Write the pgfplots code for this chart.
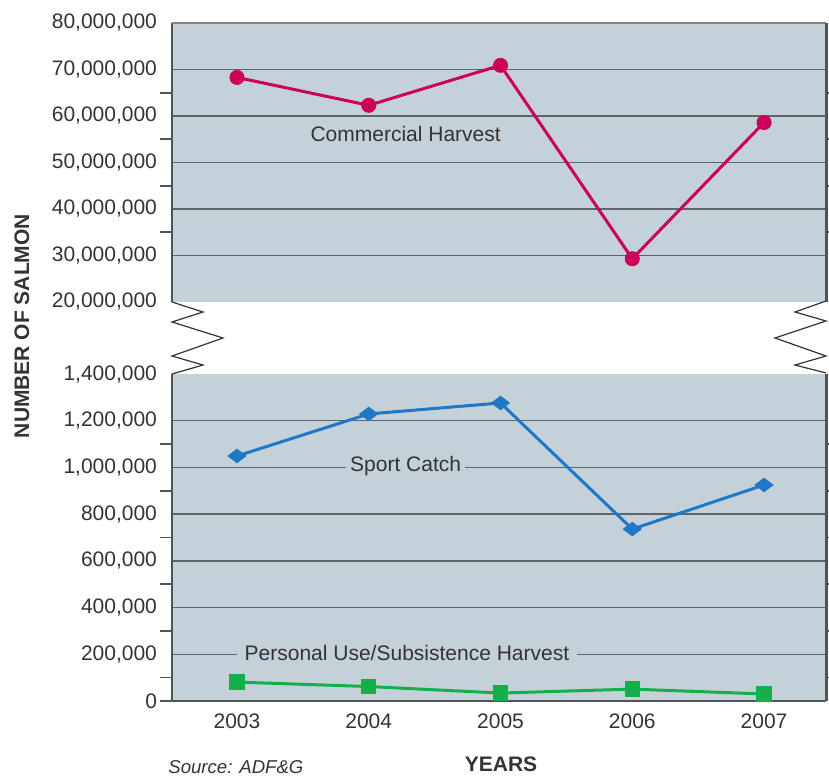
\documentclass[border=0pt]{standalone}
\usepackage{fontspec}
\setmainfont{Liberation Sans}
\usepackage{pgfplots}
\pgfplotsset{compat=1.18}
\definecolor{panel}{HTML}{C5D1D9}
\definecolor{gridc}{HTML}{5F6468}
\definecolor{framec}{HTML}{4F5457}
\definecolor{txt}{HTML}{333333}
\definecolor{commercial}{HTML}{CC005A}
\definecolor{sport}{HTML}{1F78C6}
\definecolor{personal}{HTML}{14AF4B}

\pgfplotsset{
  salmon/.style={
    scale only axis, width=327pt, anchor=south west,
    xmin=2002.507, xmax=2007.47,
    axis background/.style={fill=panel},
    axis line style={draw=none},
    clip=false,
    ymajorgrids, major grid style={gridc, line width=0.75pt},
    major tick length=0pt, minor tick length=6pt, tick align=outside,
    minor y tick num=1, minor tick style={framec, line width=0.8pt},
    scaled y ticks=false,
    extra y tick style={grid=none},
    tick label style={font=\fontsize{10.5}{12}\selectfont, text=txt},
    yticklabel style={xshift=-4pt},
    /pgf/number format/.cd, fixed, precision=0, 1000 sep={,}, assume math mode=true,
  }
}

\begin{document}
\begin{tikzpicture}
\useasboundingbox (0pt,0pt) rectangle (414.5pt,-388.5pt);

% upper panel: commercial harvest
\begin{axis}[salmon, at={(86pt,-151pt)}, height=139.5pt,
  ymin=20000000, ymax=80000000,
  ytick={30000000,40000000,50000000,60000000,70000000},
  extra y ticks={20000000,80000000},
  xtick=\empty]
\addplot[commercial, line width=1.5pt, mark=*, mark size=3pt] coordinates {
  (2003,68300000) (2004,62300000) (2005,70900000) (2006,29300000) (2007,58600000)};
\node[fill=panel, inner xsep=2pt, inner ysep=1pt, text=txt, font=\fontsize{10.5}{12}\selectfont]
  at (axis cs:2004.28,56200000) {Commercial Harvest};
\draw[framec, line width=1pt] (rel axis cs:0,0) -- (rel axis cs:0,1);
\draw[gridc!80, line width=1.1pt] (rel axis cs:0,1) -- (rel axis cs:1,1);
\draw[framec, line width=1.5pt] (rel axis cs:1,1) -- (rel axis cs:1,0);
\end{axis}

% lower panel: sport catch and personal use
\begin{axis}[salmon, at={(86pt,-350.5pt)}, height=163.5pt,
  ymin=0, ymax=1400000,
  ytick={0,200000,400000,600000,800000,1000000,1200000},
  extra y ticks={1400000},
  xtick={2003,2004,2005,2006,2007},
  xticklabel style={/pgf/number format/1000 sep={}, yshift=-3pt}]
\addplot[sport, line width=1.5pt, mark=diamond*, mark size=3.6pt, mark options={rotate=90}] coordinates {
  (2003,1049000) (2004,1229000) (2005,1276000) (2006,736000) (2007,925000)};
\addplot[personal, line width=1.5pt, mark=square*, mark size=3.1pt] coordinates {
  (2003,81000) (2004,62000) (2005,34000) (2006,51000) (2007,30000)};
\node[fill=panel, inner xsep=2pt, inner ysep=1pt, text=txt, font=\fontsize{10.5}{12}\selectfont]
  at (axis cs:2004.28,1006000) {Sport Catch};
\node[fill=panel, inner xsep=4pt, inner ysep=1pt, text=txt, font=\fontsize{10.5}{12}\selectfont]
  at (axis cs:2004.29,205000) {Personal Use/Subsistence Harvest};
\draw[framec, line width=0.8pt] (rel axis cs:0,0) -- ++(-6pt,0pt);
\draw[framec, line width=1pt] (rel axis cs:0,1) -- (rel axis cs:0,0) -- (rel axis cs:1,0);
\draw[framec, line width=1.5pt] (rel axis cs:1,0) -- (rel axis cs:1,1);
\end{axis}

% axis break zigzags
\draw[black!80, line width=0.6pt] (86pt,-151pt) -- (101.5pt,-156pt) -- (86pt,-161pt) -- (111.5pt,-169pt)
  -- (86pt,-178pt) -- (101.5pt,-182.5pt) -- (86pt,-187pt);
\draw[black!80, line width=0.6pt] (413pt,-150.5pt) -- (397.5pt,-156pt) -- (413pt,-160.5pt) -- (387.5pt,-169pt)
  -- (413pt,-178pt) -- (397.5pt,-182.5pt) -- (413pt,-186.5pt);

% titles
\node[rotate=90, text=txt, font=\fontsize{10.5}{12}\selectfont\bfseries] at (11pt,-163pt) {NUMBER OF SALMON};
\node[text=txt, font=\fontsize{10.5}{12}\selectfont\bfseries] at (250.5pt,-382pt) {YEARS};
\node[anchor=base west, inner sep=0pt, text=txt, font=\fontsize{9.3}{11}\selectfont\itshape] at (84pt,-386.5pt) {Source: ADF\&G};
\end{tikzpicture}
\end{document}
